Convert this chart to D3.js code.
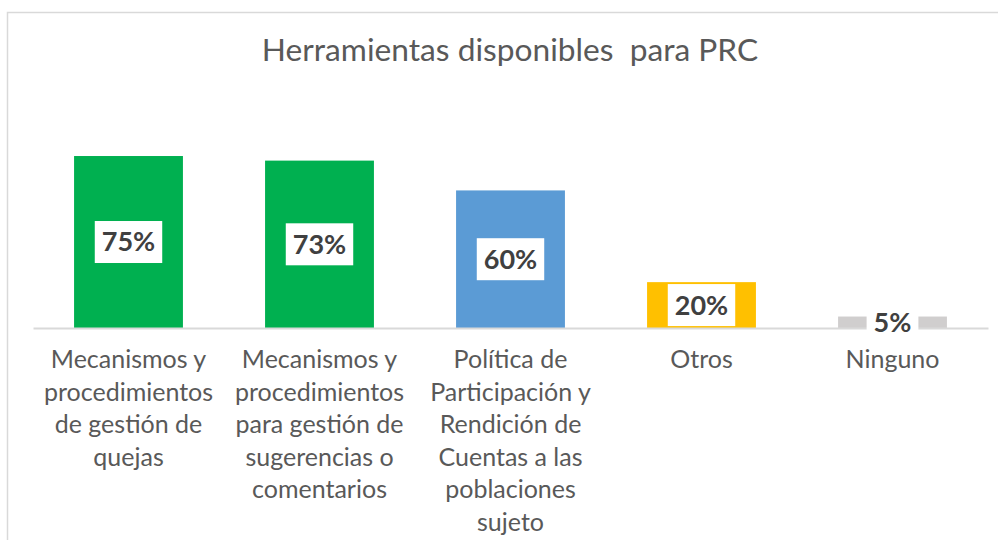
<!DOCTYPE html>
<html>
<head>
<meta charset="utf-8">
<script src="https://cdn.jsdelivr.net/npm/d3@7"></script>
<style>
    body { margin: 0; background: #fff; }
    svg { display: block; }
</style>
</head>
<body>
<svg id="chart" width="998" height="540"></svg>
<script>
// chart data
let title = "Herramientas disponibles  para PRC";
let categories = [
    "Mecanismos y procedimientos de gestión de quejas",
    "Mecanismos y procedimientos para gestión de sugerencias o comentarios",
    "Política de Participación y Rendición de Cuentas a las poblaciones sujeto",
    "Otros",
    "Ninguno"
];
// how each category label wraps under the axis
let categoryLines = [
    ["Mecanismos y", "procedimientos", "de gestión de", "quejas"],
    ["Mecanismos y", "procedimientos", "para gestión de", "sugerencias o", "comentarios"],
    ["Política de", "Participación y", "Rendición de", "Cuentas a las", "poblaciones", "sujeto"],
    ["Otros"],
    ["Ninguno"]
];
let values = [75, 73, 60, 20, 5];
let barColors = ["#00b050", "#00b050", "#5b9bd5", "#ffc000", "#d0cece"];

let svg = d3.select("#chart");

// chart area border (runs off the right and bottom edges)
svg.append("rect")
    .attr("x", 7.5)
    .attr("y", 12.5)
    .attr("width", 1000)
    .attr("height", 540)
    .attr("fill", "none")
    .attr("stroke", "#d9d9d9")
    .attr("stroke-width", 1.5);

svg.append("text")
    .attr("x", 510)
    .attr("y", 61)
    .attr("text-anchor", "middle")
    .attr("font-family", "Lato, 'Open Sans', sans-serif")
    .attr("font-size", 31.7)
    .attr("fill", "#595959")
    .style("white-space", "pre")
    .text(title);

let baseline = 328;
let x = d3.scaleBand()
    .domain(categories)
    .range([33, 988])
    .paddingInner(0.43)
    .paddingOuter(0.215);

let y = d3.scaleLinear()
    .domain([0, 100])
    .range([baseline, baseline - 229.3]);

let g = svg.append("g");

g.selectAll(".bar")
    .data(values)
    .enter().append("rect")
    .attr("class", "bar")
    .attr("x", function (d, i) { return x(categories[i]); })
    .attr("y", function (d) { return y(d); })
    .attr("width", x.bandwidth())
    .attr("height", function (d) { return baseline - y(d); })
    .attr("fill", function (d, i) { return barColors[i]; });

// axis with wrapped labels
let axis = svg.append("g")
    .attr("transform", "translate(0," + baseline + ")")
    .call(d3.axisBottom(x).tickSize(0).tickFormat(""));

axis.select(".domain")
    .attr("stroke", "#d9d9d9")
    .attr("stroke-width", 2);

axis.selectAll(".tick text").remove();
axis.selectAll(".tick").each(function (d, i) {
    let t = d3.select(this).append("text")
        .attr("text-anchor", "middle")
        .attr("font-family", "Lato, 'Open Sans', sans-serif")
        .attr("font-size", 25)
        .attr("fill", "#595959");
    categoryLines[i].forEach(function (line, k) {
        t.append("tspan")
            .attr("x", 0)
            .attr("y", 40 + k * 32.6)
            .text(line);
    });
});

// data labels in white boxes, centred on the bars
let labels = svg.selectAll(".data-label")
    .data(values)
    .enter().append("g")
    .attr("class", "data-label")
    .attr("transform", function (d, i) {
        let cx = x(categories[i]) + x.bandwidth() / 2;
        let cy = (y(d) + baseline) / 2;
        return "translate(" + cx + "," + cy + ")";
    });

labels.append("rect").attr("fill", "#fff");

labels.append("text")
    .attr("text-anchor", "middle")
    .attr("dy", "0.35em")
    .attr("font-family", "Lato, 'Open Sans', sans-serif")
    .attr("font-weight", "bold")
    .attr("font-size", 27)
    .attr("fill", "#404040")
    .text(function (d) { return d + "%"; });

labels.each(function () {
    let bb = d3.select(this).select("text").node().getBBox();
    d3.select(this).select("rect")
        .attr("x", -bb.width / 2 - 7)
        .attr("y", -21)
        .attr("width", bb.width + 14)
        .attr("height", 42);
});
</script>
</body>
</html>
